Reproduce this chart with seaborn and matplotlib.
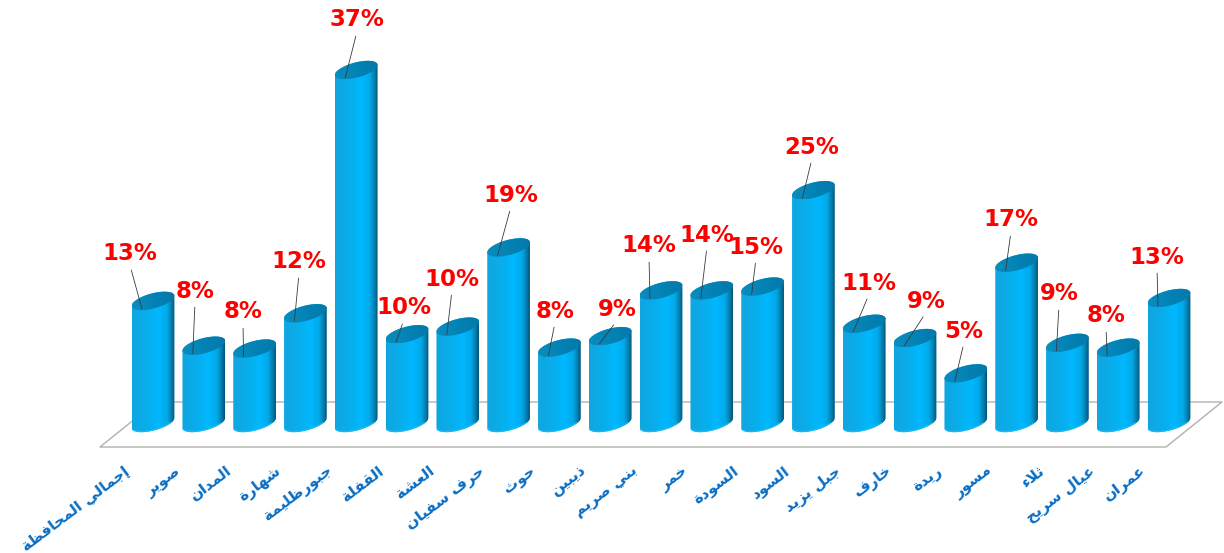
#%%
import unicodedata
import numpy as np
import pandas as pd
import matplotlib.pyplot as plt
import seaborn as sns
from matplotlib.patches import PathPatch
from matplotlib.path import Path
from matplotlib.colors import LinearSegmentedColormap
from matplotlib.transforms import ScaledTranslation

#%%
# Data
districts = ['إجمالي المحافظة', 'صوير', 'المدان', 'شهارة', 'جبورظليمة', 'القفلة', 'العشة',
             'حرف سفيان', 'حوث', 'ذيبين', 'بني صريم', 'خمر', 'السودة', 'السود', 'جبل يزيد',
             'خارف', 'ريدة', 'مسور', 'ثلاء', 'عيال سريح', 'عمران']
heights = [12.8, 8.1, 7.8, 11.5, 37.0, 9.3, 10.1, 18.4, 7.9, 9.1, 13.9,
           13.9, 14.3, 24.4, 10.4, 8.9, 5.2, 16.8, 8.4, 7.9, 13.1]
pct_labels = ['13%', '8%', '8%', '12%', '37%', '10%', '10%', '19%', '8%', '9%', '14%',
              '14%', '15%', '25%', '11%', '9%', '5%', '17%', '9%', '8%', '13%']

# Where each red label sits (pixels from top-left of the picture)
label_x = [130, 195, 243, 299, 357, 404, 452, 511, 555, 617, 649,
           707, 756, 812, 869, 926, 964, 1011, 1059, 1106, 1157]
label_y = [254, 291, 312, 262, 20, 308, 279, 195, 311, 309, 246,
           235, 247, 147, 283, 301, 331, 220, 294, 316, 257]

W, H = 1224, 553
x_first, x_step = 153, 50.8     # px position of first bar, px between bars
y_base, y_scale = 423, 9.54     # px of the baseline, px per percent
ell_a, ell_b, ell_tilt = 22, 7.5, np.radians(15)


#%%
# matplotlib does no Arabic shaping, so pick the presentation forms by hand
def shape_arabic(text):
    right_only = 'اأإآدذرزوة'
    no_join = 'ء '
    out = []
    for i, ch in enumerate(text):
        if ch == ' ':
            out.append(ch)
            continue
        prev_ch = text[i - 1] if i > 0 else ' '
        next_ch = text[i + 1] if i < len(text) - 1 else ' '
        joins_prev = prev_ch not in right_only and prev_ch not in no_join
        joins_next = ch not in right_only and ch not in no_join and next_ch not in no_join
        if joins_prev and joins_next:
            form = 'MEDIAL'
        elif joins_prev:
            form = 'FINAL'
        elif joins_next:
            form = 'INITIAL'
        else:
            form = 'ISOLATED'
        out.append(unicodedata.lookup(unicodedata.name(ch) + ' ' + form + ' FORM'))
    s = ''.join(out)
    lam_i = unicodedata.lookup('ARABIC LETTER LAM INITIAL FORM')
    lam_m = unicodedata.lookup('ARABIC LETTER LAM MEDIAL FORM')
    alef_f = unicodedata.lookup('ARABIC LETTER ALEF FINAL FORM')
    s = s.replace(lam_i + alef_f, unicodedata.lookup('ARABIC LIGATURE LAM WITH ALEF ISOLATED FORM'))
    s = s.replace(lam_m + alef_f, unicodedata.lookup('ARABIC LIGATURE LAM WITH ALEF FINAL FORM'))
    return s[::-1]


def ellipse_pts(t):
    # tilted ellipse, result in data units
    dx = ell_a * np.cos(t) * np.cos(ell_tilt) - ell_b * np.sin(t) * np.sin(ell_tilt)
    dy = ell_a * np.cos(t) * np.sin(ell_tilt) + ell_b * np.sin(t) * np.cos(ell_tilt)
    return dx / x_step, dy / y_scale


#%%
sns.set_theme(style='white')
plt.rcParams['font.family'] = ['DejaVu Sans']

fig = plt.figure(figsize=(W / 100, H / 100), dpi=100, facecolor='white')
ax = fig.add_axes([0, (H - y_base) / H, 1, y_base / H])

df = pd.DataFrame({'district': [shape_arabic(d) for d in districts], 'pct': heights})
sns.barplot(data=df, x='district', y='pct', color='#00B4F5', width=0.83, ax=ax, zorder=3)

ax.set_xlim(-x_first / x_step, (W - x_first) / x_step)
ax.set_ylim(0, y_base / y_scale)

# floor of the 3D chart, drawn behind the bars
floor_x = np.array([100, 1166, 1222, 156])
floor_y = np.array([447, 447, 402, 402])
ax.plot((floor_x[[3, 0, 1, 2, 3]] - x_first) / x_step, (y_base - floor_y[[3, 0, 1, 2, 3]]) / y_scale,
        color='#B0B0B0', lw=1.0, clip_on=False, zorder=1)

body_cmap = LinearSegmentedColormap.from_list('body', [
    (0.0, '#10A6E0'), (0.35, '#08AEEC'), (0.62, '#00B8FF'), (0.82, '#02A8E8'),
    (0.93, '#047BAA'), (1.0, '#055475')])
top_cmap = LinearSegmentedColormap.from_list('top', ['#0A8DBF', '#0482B5', '#037AAA'])

# a tangent point on the ellipse, where the side of the cylinder leaves it
t_right = np.arctan2(-ell_b * np.sin(ell_tilt), ell_a * np.cos(ell_tilt))

for i, bar in enumerate(ax.patches):
    cx = bar.get_x() + bar.get_width() / 2
    h = bar.get_height()

    t_low = np.linspace(t_right - np.pi, t_right, 40)
    t_up = np.linspace(t_right, t_right + np.pi, 40)
    lx, ly = ellipse_pts(t_low)
    ux, uy = ellipse_pts(t_up)
    body = np.vstack([np.column_stack([cx + lx, ly]), np.column_stack([cx + ux, h + uy])])
    body_patch = PathPatch(Path(np.vstack([body, body[0]])), transform=ax.transData,
                           fc='none', ec='none')
    ax.add_patch(body_patch)
    bar.set_clip_box(fig.bbox)
    bar.set_clip_path(body_patch)

    im = ax.imshow(np.linspace(0, 1, 128)[None, :], cmap=body_cmap, aspect='auto', zorder=3.1,
                   extent=[cx + lx.min(), cx + lx.max(), -2, h + 2], interpolation='bilinear')
    im.set_clip_box(fig.bbox)
    im.set_clip_path(body_patch)

    # soft lighter rim at the foot of the cylinder
    ax.plot((cx + lx)[3:32], (ly + 0.08)[3:32], color='#1FBBF5', lw=1.0, alpha=0.8,
            clip_on=False, zorder=3.2)

    # flat top
    tt = np.linspace(0, 2 * np.pi, 80)
    ex, ey = ellipse_pts(tt)
    top_patch = PathPatch(Path(np.column_stack([cx + ex, h + ey])), transform=ax.transData,
                          fc='none', ec='none')
    ax.add_patch(top_patch)
    im2 = ax.imshow(np.linspace(0, 1, 64)[None, :], cmap=top_cmap, aspect='auto', zorder=3.3,
                    extent=[cx + ex.min(), cx + ex.max(), h + ey.min(), h + ey.max()],
                    interpolation='bilinear')
    im2.set_clip_box(fig.bbox)
    im2.set_clip_path(top_patch)

    # red label and its thin leader line
    ax.annotate(pct_labels[i], xy=(cx - 11 / x_step, h - 8 / y_scale), xycoords='data',
                xytext=(label_x[i], H - label_y[i]), textcoords='figure pixels',
                ha='center', va='center', color='#FF0000', fontsize=16.5, fontweight='bold',
                zorder=5, annotation_clip=False,
                arrowprops=dict(arrowstyle='-', color='#3A3A3A', lw=0.6, shrinkA=1, shrinkB=0,
                                relpos=(0.5, 0)))

ax.set_xlim(-x_first / x_step, (W - x_first) / x_step)
ax.set_ylim(0, y_base / y_scale)

sns.despine(ax=ax, left=True, bottom=True)
ax.set_xlabel('')
ax.set_ylabel('')
ax.set_yticks([])
ax.patch.set_alpha(0)
ax.tick_params(axis='x', length=0, pad=29)
shift = ScaledTranslation(-30 / 100, 0, fig.dpi_scale_trans)
for tick in ax.get_xticklabels():
    tick.set(rotation=37, ha='right', va='top', rotation_mode='anchor',
             color='#0A6EC4', fontsize=11, fontweight='bold')
    tick.set_transform(tick.get_transform() + shift)

fig.savefig('out.png', dpi=100)
